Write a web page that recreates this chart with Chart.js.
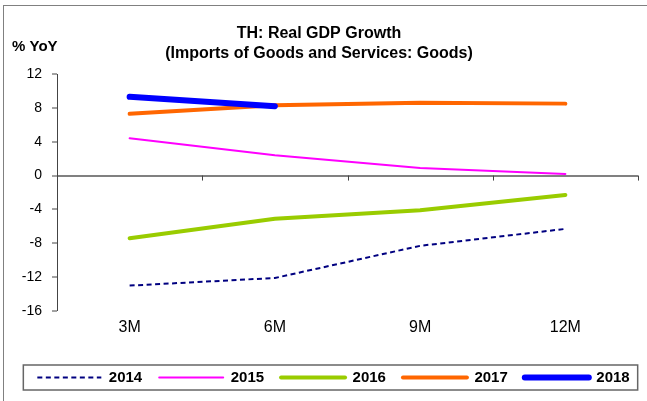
<!DOCTYPE html>
<html>
<head>
<meta charset="utf-8">
<script src="https://cdn.jsdelivr.net/npm/chart.js@4"></script>
<style>
  html, body { margin: 0; padding: 0; background: #fff; }
  #wrap { position: relative; width: 647px; height: 401px; overflow: hidden; }
  #frame { position: absolute; left: 3px; top: 5px; width: 700px; height: 500px; border: 1px solid #808080; }
  #chart { position: absolute; left: 0; top: 0; }
</style>
</head>
<body>
<div id="wrap">
  <div id="frame"></div>
  <canvas id="chart" width="647" height="401"></canvas>
</div>
<script>
// categories and series (% YoY)
const labels = ["3M", "6M", "9M", "12M"];
const y2014 = [-13.0, -12.1, -8.3, -6.3];
const y2015 = [4.4, 2.4, 0.9, 0.2];
const y2016 = [-7.4, -5.1, -4.1, -2.3];
const y2017 = [7.3, 8.3, 8.6, 8.5];
const y2018 = [9.3, 8.2, null, null];

const yMin = -16, yMax = 12, yStep = 4;
const FONT = "Arial, 'Liberation Sans', sans-serif";
const LEG_PAD = 17, LEG_FONT = 15;

// ticks on the zero line, box round the legend, unit label
const extras = {
  id: "extras",
  afterLayout(chart) {
    // shift the legend row to the right, like the original
    const lg = chart.legend;
    lg.left = 0;
    lg.right = 667;
    if (typeof lg.adjustHitBoxes === "function") lg.adjustHitBoxes();
  },
  afterDraw(chart) {
    const ctx = chart.ctx;
    const x = chart.scales.x, y = chart.scales.y;
    const y0 = y.getPixelForValue(0);
    ctx.save();
    ctx.strokeStyle = "#444";
    ctx.lineWidth = 1;
    for (let i = 0; i < labels.length; i++) {
      const px = Math.round(x.getPixelForValue(i + 0.5)) + 0.5;
      ctx.beginPath();
      ctx.moveTo(px, y0);
      ctx.lineTo(px, y0 + 5);
      ctx.stroke();
    }
    const lg = chart.legend;
    const row = lg.lineWidths[0];
    const start = (lg.left + LEG_PAD + lg.right - row) / 2;
    const l = start - 14, r = start + row - LEG_PAD + 8;
    const cy = lg.top + LEG_PAD + LEG_FONT / 2;
    ctx.strokeStyle = "#666";
    ctx.lineWidth = 1.5;
    ctx.strokeRect(l, cy - 12.5, r - l, 25);
    ctx.fillStyle = "#000";
    ctx.font = "bold 15px " + FONT;
    ctx.textAlign = "left";
    ctx.textBaseline = "middle";
    ctx.fillText("% YoY", 12, 47);
    ctx.restore();
  }
};

const datasets = [
  { label: "2014", data: y2014, borderColor: "#000080", borderWidth: 2, borderDash: [5, 3.5], borderCapStyle: "butt", order: 4 },
  { label: "2015", data: y2015, borderColor: "#FF00FF", borderWidth: 2, order: 3 },
  { label: "2016", data: y2016, borderColor: "#99CC00", borderWidth: 4, order: 2 },
  { label: "2017", data: y2017, borderColor: "#FF6600", borderWidth: 4, order: 1 },
  { label: "2018", data: y2018, borderColor: "#0000FF", borderWidth: 6, order: 0 }
].map(d => Object.assign({ pointRadius: 0, tension: 0, borderCapStyle: "round", fill: false }, d));

new Chart(document.getElementById("chart"), {
  type: "line",
  data: { labels: labels, datasets: datasets },
  options: {
    responsive: false,
    animation: false,
    layout: { padding: { left: 0, right: 9, top: 0, bottom: 6 } },
    plugins: {
      tooltip: { enabled: false },
      title: {
        display: true,
        text: ["TH: Real GDP Growth", "(Imports of Goods and Services: Goods)"],
        color: "#000",
        font: { family: FONT, size: 16, weight: "bold", lineHeight: 1.25 },
        padding: { top: 24, bottom: 10 }
      },
      legend: {
        position: "bottom",
        labels: {
          usePointStyle: true,
          pointStyle: "line",
          pointStyleWidth: 64,
          boxHeight: 10,
          padding: LEG_PAD,
          color: "#000",
          font: { family: FONT, size: LEG_FONT, weight: "bold" },
          generateLabels(chart) {
            const items = Chart.defaults.plugins.legend.labels.generateLabels(chart);
            items.forEach(it => {
              const ds = chart.data.datasets[it.datasetIndex];
              it.lineDash = ds.borderDash || [];
              it.lineWidth = ds.borderWidth;
              it.lineCap = ds.borderCapStyle;
              it.strokeStyle = ds.borderColor;
              it.pointStyle = "line";
            });
            return items.sort((a, b) => a.datasetIndex - b.datasetIndex);
          }
        }
      }
    },
    scales: {
      x: {
        offset: true,
        grid: { display: false, drawTicks: false },
        border: { display: false },
        ticks: { color: "#000", padding: 7, font: { family: FONT, size: 16 } },
        afterFit(scale) { scale.height = 42; }
      },
      y: {
        min: yMin,
        max: yMax,
        ticks: { stepSize: yStep, color: "#000", padding: 10, font: { family: FONT, size: 14 } },
        grid: {
          drawOnChartArea: true,
          color: c => (c.tick && c.tick.value === 0 ? "#808080" : "rgba(0,0,0,0)"),
          lineWidth: c => (c.tick && c.tick.value === 0 ? 2 : 0),
          tickColor: "#444",
          tickWidth: 1,
          tickLength: 5
        },
        border: { display: true, color: "#444", width: 1 },
        afterFit(scale) { scale.width = 57; }
      }
    }
  },
  plugins: [extras]
});
</script>
</body>
</html>
